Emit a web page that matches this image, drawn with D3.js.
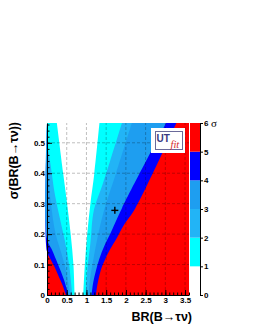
<!DOCTYPE html>
<html>
<head>
<meta charset="utf-8">
<script src="https://cdn.jsdelivr.net/npm/d3@7"></script>
<style>
  body { margin: 0; background: #fff; }
  svg { display: block; }
  .axis text { font-family: "Liberation Sans", Arial, sans-serif; font-weight: bold; font-size: 8px; fill: #000; }
  .axis path, .axis line { stroke: #000; }
</style>
</head>
<body>
<div class="canvas"></div>
<script>
// tick values and labels
const xTicks = [0, 0.5, 1, 1.5, 2, 2.5, 3, 3.5];
const xTickLabels = ['0', '0.5', '1', '1.5', '2', '2.5', '3', '3.5'];
const yTicks = [0, 0.1, 0.2, 0.3, 0.4, 0.5];
const yTickLabels = ['0', '0.1', '0.2', '0.3', '0.4', '0.5'];
const sigmaTicks = [0, 1, 2, 3, 4, 5, 6];
const bandColors = ['#ffffff', '#00ffff', '#22b4f6', '#1e9ef0', '#0000ff', '#ff0000'];

// contour edges, [BR, sigma(BR)]
// left edge of the region below n sigma
const left1 = [[0.70, 0], [0.67, 0.1], [0.60, 0.2], [0.51, 0.3], [0.41, 0.4], [0.25, 0.565]];
const left2 = [[0.64, 0], [0.56, 0.1], [0.45, 0.18], [0.33, 0.25], [0.2, 0.33], [0.1, 0.42], [0, 0.51]];
const left3 = [[0.59, 0], [0.5, 0.07], [0.38, 0.13], [0.22, 0.2], [0.1, 0.3], [0.04, 0.38], [0, 0.44]];
const left4 = [[0.54, 0], [0.43, 0.05], [0.28, 0.1], [0.12, 0.15], [0, 0.185]];
const left5 = [[0.48, 0], [0.4, 0.03], [0.3, 0.06], [0.18, 0.095], [0.08, 0.12], [0, 0.143]];
// right edge of the region below n sigma
const right1 = [[0.92, 0], [0.96, 0.1], [1.02, 0.2], [1.1, 0.3], [1.2, 0.4], [1.33, 0.565]];
const right2 = [[0.98, 0], [1.02, 0.08], [1.1, 0.17], [1.19, 0.28], [1.4, 0.36], [1.6, 0.44], [1.9, 0.565]];
const right3 = [[1.05, 0], [1.1, 0.06], [1.18, 0.12], [1.3, 0.2], [1.45, 0.28], [1.75, 0.4], [2.15, 0.565]];
const right4 = [[1.13, 0], [1.17, 0.04], [1.24, 0.08], [1.33, 0.12], [1.45, 0.16], [1.6, 0.2], [1.9, 0.285], [3.02, 0.565]];
const right5 = [[1.24, 0], [1.28, 0.035], [1.36, 0.08], [1.45, 0.11], [1.6, 0.15], [1.76, 0.185], [1.95, 0.23], [2.24, 0.285], [3.28, 0.565]];

const lefts = [left1, left2, left3, left4, left5];
const rights = [right1, right2, right3, right4, right5];

// measured point
const point = [1.72, 0.278];

const xMax = 3.6, yMax = 0.565;

const svg = d3.select('.canvas')
    .append('svg')
    .attr('width', 255)
    .attr('height', 330);

const x = d3.scaleLinear().domain([0, xMax]).range([47, 189]);
const y = d3.scaleLinear().domain([0, yMax]).range([295, 123]);
const s = d3.scaleLinear().domain([0, 6]).range([295, 123]);

const edge = d3.line()
    .x(d => x(d[0]))
    .y(d => y(d[1]))
    .curve(d3.curveCatmullRom.alpha(0.5));

const regionPath = (L, R) => {
    const l = L.slice();
    if (l[l.length - 1][1] < yMax) l.push([0, yMax]);
    const r = R.slice().reverse();
    return edge(l) + edge(r).replace(/^M/, 'L') + 'Z';
};

const plot = svg.append('g');

// outermost: above 5 sigma
plot.append('rect')
    .attr('x', x(0)).attr('y', y(yMax))
    .attr('width', x(xMax) - x(0)).attr('height', y(0) - y(yMax))
    .attr('fill', bandColors[5]);

// nested regions from 5 sigma down to 1 sigma
d3.range(4, -1, -1).forEach(i => {
    plot.append('path')
        .attr('d', regionPath(lefts[i], rights[i]))
        .attr('fill', bandColors[i]);
});

// grid
const grid = svg.append('g')
    .attr('stroke', '#000')
    .attr('stroke-opacity', 0.25)
    .attr('stroke-dasharray', '3,2');

grid.selectAll('.gx')
    .data(xTicks.filter(d => d > 0))
    .enter().append('line')
    .attr('x1', d => x(d)).attr('x2', d => x(d))
    .attr('y1', y(0)).attr('y2', y(yMax));

grid.selectAll('.gy')
    .data(yTicks.filter(d => d > 0))
    .enter().append('line')
    .attr('y1', d => y(d)).attr('y2', d => y(d))
    .attr('x1', x(0)).attr('x2', x(xMax));

// axes, ticks inward like ROOT
svg.append('g')
    .attr('class', 'axis')
    .attr('transform', `translate(0, ${y(0)})`)
    .call(d3.axisBottom(x).tickValues(d3.range(0, 3.61, 0.1)).tickSize(-2.5).tickFormat(''))
    .call(g => g.select('.domain').remove());

svg.append('g')
    .attr('class', 'axis')
    .attr('transform', `translate(0, ${y(0)})`)
    .call(d3.axisBottom(x).tickValues(xTicks).tickSize(-5).tickSizeOuter(0).tickPadding(2)
        .tickFormat((d, i) => xTickLabels[i]));

svg.append('g')
    .attr('class', 'axis')
    .attr('transform', `translate(${x(0)}, 0)`)
    .call(d3.axisLeft(y).tickValues(d3.range(0, 0.561, 0.02)).tickSize(-2.5).tickFormat(''))
    .call(g => g.select('.domain').remove());

svg.append('g')
    .attr('class', 'axis')
    .attr('transform', `translate(${x(0)}, 0)`)
    .call(d3.axisLeft(y).tickValues(yTicks).tickSize(-5).tickSizeOuter(0).tickPadding(2)
        .tickFormat((d, i) => yTickLabels[i]));

// measured point
const cross = svg.append('g')
    .attr('transform', `translate(${x(point[0])}, ${y(point[1])})`)
    .attr('stroke', '#000')
    .attr('stroke-width', 1.4);
cross.append('line').attr('x1', -3.5).attr('x2', 3.5);
cross.append('line').attr('y1', -3.5).attr('y2', 3.5);

// UTfit logo
const logo = svg.append('g');
logo.append('rect')
    .attr('x', 151).attr('y', 128).attr('width', 34).attr('height', 25)
    .attr('fill', '#fff');
logo.append('rect')
    .attr('x', 155.5).attr('y', 131.5).attr('width', 27).attr('height', 18)
    .attr('fill', 'none').attr('stroke', '#6a6a9a').attr('stroke-width', 1);
logo.append('text')
    .attr('x', 156.5).attr('y', 142)
    .attr('font-family', 'Liberation Sans, Arial, sans-serif')
    .attr('font-weight', 'bold').attr('font-size', 10)
    .attr('fill', '#3a3a82')
    .text('UT');
logo.append('text')
    .attr('x', 170.5).attr('y', 147.5)
    .attr('font-family', 'Liberation Serif, Times, serif')
    .attr('font-style', 'italic').attr('font-size', 10.5)
    .attr('fill', '#d42a2a')
    .text('fit');

// colour bar
const bar = svg.append('g');
bar.selectAll('rect')
    .data(bandColors)
    .enter().append('rect')
    .attr('x', 190)
    .attr('width', 10)
    .attr('y', (d, i) => s(sigmaTicks[i + 1]))
    .attr('height', (d, i) => s(sigmaTicks[i]) - s(sigmaTicks[i + 1]))
    .attr('fill', d => d);

svg.append('g')
    .attr('class', 'axis')
    .attr('transform', 'translate(200, 0)')
    .call(d3.axisRight(s).tickValues(sigmaTicks).tickSize(3).tickSizeOuter(0).tickPadding(1)
        .tickFormat(d3.format('d')));

svg.append('text')
    .attr('x', 211).attr('y', 127)
    .attr('font-family', 'Liberation Serif, Times, serif')
    .attr('font-size', 11)
    .text('σ');

// axis titles
svg.append('text')
    .attr('x', 192).attr('y', 321)
    .attr('text-anchor', 'end')
    .attr('font-family', 'Liberation Sans, Arial, sans-serif')
    .attr('font-weight', 'bold').attr('font-size', 12.5)
    .text('BR(B→τν)');

svg.append('text')
    .attr('transform', 'translate(18, 122) rotate(-90)')
    .attr('text-anchor', 'end')
    .attr('font-family', 'Liberation Sans, Arial, sans-serif')
    .attr('font-weight', 'bold').attr('font-size', 12.5)
    .text('σ(BR(B→τν))');
</script>
</body>
</html>
